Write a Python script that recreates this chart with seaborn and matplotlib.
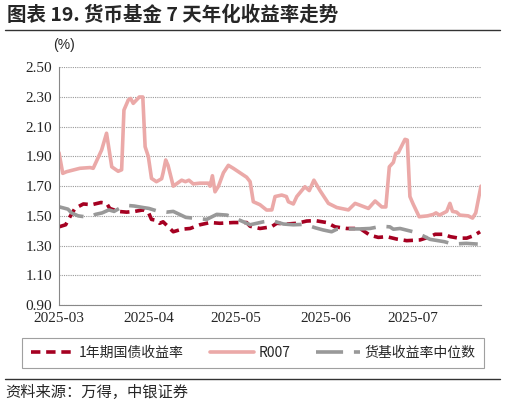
import pandas as pd
import matplotlib
matplotlib.use("Agg")
import matplotlib.pyplot as plt
import matplotlib.dates as mdates
import seaborn as sns

# day offsets counted from 2025-03-01
r007_days = [0, 1.3, 2.6, 7.2, 10.7, 11.8, 14.7, 16.4, 18.2, 20.4, 21.6, 22.4, 23.9, 24.7,
             25.6, 27.7, 28.9, 29.7, 30.8, 31.9, 33.6, 35.4, 35.9, 36.8, 37.6, 39.4, 42.3,
             43.6, 44.8, 46.3, 48.6, 51.5, 52.1, 52.9, 53.8, 55, 56.7, 58.4, 60.1, 64.7,
             65.9, 67, 69.3, 71.6, 73.4, 74.5, 76.8, 78.4, 79.1, 80.8, 82, 84.8, 86.3,
             87.9, 90, 92.9, 95.8, 99.8, 102.1, 106.7, 109, 111.3, 112.7, 113.9, 115.3,
             116.1, 117, 119.3, 120.1, 121, 122.1, 124.2, 127.1, 129.1, 130, 131.2, 133.7,
             134.8, 135.7, 137.1, 138.2, 141.1, 142.6, 143.7, 145.5]
r007_vals = [1.925, 1.786, 1.797, 1.82, 1.825, 1.82, 1.943, 2.056, 1.83, 1.80, 1.81, 2.212,
             2.28, 2.29, 2.257, 2.30, 2.30, 1.965, 1.90, 1.752, 1.73, 1.75, 1.79, 1.876,
             1.84, 1.70, 1.74, 1.73, 1.74, 1.715, 1.72, 1.72, 1.70, 1.77, 1.662, 1.70,
             1.79, 1.84, 1.82, 1.76, 1.73, 1.595, 1.575, 1.539, 1.54, 1.63, 1.64, 1.63,
             1.595, 1.58, 1.63, 1.696, 1.67, 1.74, 1.67, 1.584, 1.556, 1.54, 1.584, 1.55,
             1.60, 1.56, 1.56, 1.83, 1.86, 1.92, 1.925, 2.015, 2.01, 1.63, 1.58, 1.494,
             1.50, 1.51, 1.52, 1.505, 1.53, 1.584, 1.53, 1.525, 1.505, 1.50, 1.485, 1.52,
             1.70]

gov1y_days = [0, 2.3, 3.8, 5.5, 8.4, 11.3, 14.5, 16.4, 17.5, 20.4, 23.3, 26.1, 29, 30.8,
              31.9, 33.6, 34.7, 35.9, 37.7, 39.4, 42.3, 45.2, 48.6, 52.1, 55.5, 60.1, 64.7,
              65.9, 69.3, 73.2, 75.1, 78.6, 82, 85.4, 88.3, 92.3, 95.2, 99.2, 103.8, 107.2,
              110.1, 113, 116.4, 119.9, 124.5, 128, 129.7, 132.6, 134.9, 137.8, 140.6, 143,
              145.2]
gov1y_vals = [1.426, 1.44, 1.494, 1.55, 1.58, 1.575, 1.59, 1.585, 1.55, 1.53, 1.525, 1.53,
              1.54, 1.525, 1.476, 1.47, 1.45, 1.46, 1.426, 1.393, 1.41, 1.415, 1.44, 1.455,
              1.45, 1.455, 1.455, 1.43, 1.415, 1.426, 1.45, 1.445, 1.45, 1.465, 1.468,
              1.455, 1.426, 1.415, 1.415, 1.37, 1.355, 1.36, 1.344, 1.333, 1.338, 1.36,
              1.376, 1.376, 1.36, 1.35, 1.35, 1.367, 1.393]

median_days = [0, 3.1, 4.3, 6.6, 10.3, 12.6, 14.9, 17.2, 19, 21.3, 23.7, 26, 29, 31, 34.3,
               37.1, 39.4, 43.7, 48.6, 50.9, 54.4, 57.9, 60.1, 62.4, 65.9, 68.2, 70.5, 73.4,
               77.4, 80.8, 84.8, 88.3, 91.1, 94, 95.8, 100.3, 103.8, 107.2, 111.2, 114.1,
               115.3, 117.6, 122.1, 125.6, 127.9, 132.9, 135.8, 140.4, 144.4]
median_vals = [1.561, 1.545, 1.52, 1.50, 1.49, 1.51, 1.52, 1.54, 1.53, 1.556, 1.57, 1.566,
               1.556, 1.55, 1.53, 1.525, 1.53, 1.49, 1.48, 1.476, 1.51, 1.505, 1.49, 1.47,
               1.44, 1.45, 1.46, 1.468, 1.445, 1.44, 1.443, 1.42, 1.405, 1.393, 1.41,
               1.412, 1.412, 1.415, 1.43, 1.426, 1.41, 1.415, 1.393, 1.365, 1.342, 1.326,
               1.31, 1.315, 1.31]

y_ticks = [0.90, 1.10, 1.30, 1.50, 1.70, 1.90, 2.10, 2.30, 2.50]
month_ticks = ["2025-03-01", "2025-04-01", "2025-05-01", "2025-06-01", "2025-07-01"]

start = pd.Timestamp("2025-03-01")
cjk = ["Noto Sans CJK SC", "DejaVu Sans"]


def to_frame(days, vals):
    return pd.DataFrame({"date": start + pd.to_timedelta(days, unit="D"), "value": vals})


sns.set_style("white")
# tick labels in a Times-like face, CJK text gets its own family below
plt.rcParams["font.family"] = ["Liberation Serif", "Noto Sans CJK SC"]

fig = plt.figure(figsize=(5.05, 4.05), dpi=100)
ax = fig.add_axes([0.1168, 0.2469, 0.8356, 0.587])

sns.lineplot(data=to_frame(gov1y_days, gov1y_vals), x="date", y="value", ax=ax,
             color="#A50021", lw=2.6, label="1年期国债收益率")
ax.lines[-1].set_dashes([2.6, 1.6])
sns.lineplot(data=to_frame(r007_days, r007_vals), x="date", y="value", ax=ax,
             color="#EBA9A8", lw=2.6, label="R007")
sns.lineplot(data=to_frame(median_days, median_vals), x="date", y="value", ax=ax,
             color="#999999", lw=2.6, label="货基收益率中位数")
ax.lines[-1].set_dashes([7.5, 3])

ax.set_ylim(0.90, 2.50)
ax.set_yticks(y_ticks)
ax.yaxis.set_major_formatter(matplotlib.ticker.FormatStrFormatter("%.2f"))
ax.set_xlim(start, start + pd.Timedelta(days=145.5))
ax.set_xticks(pd.to_datetime(month_ticks))
ax.xaxis.set_major_formatter(mdates.DateFormatter("%Y-%m"))
ax.set_xlabel("")
ax.set_ylabel("")
ax.grid(axis="y", color="#999999", linestyle=(0, (1, 1)), lw=0.8)
ax.set_axisbelow(True)
for s in ["top", "right"]:
    ax.spines[s].set_visible(False)
for s in ["left", "bottom"]:
    ax.spines[s].set_color("#888888")
    ax.spines[s].set_linewidth(0.8)
ax.tick_params(axis="y", length=3, color="#888888", pad=2, labelsize=11)
ax.tick_params(axis="x", length=3, direction="in", color="#888888", pad=5, labelsize=11)

# "(%)" unit label, placed in figure pixels
fig.text(64 / 505, 1 - 45 / 405, "(%)", fontsize=10, family="Liberation Sans",
         ha="center", va="center")

leg = ax.legend(loc="center", bbox_to_anchor=(0.044, 0.087, 0.914, 0.083),
                bbox_transform=fig.transFigure, mode="expand", ncol=3, frameon=True,
                prop={"family": cjk, "size": 10}, fancybox=False, edgecolor="#888888",
                handlelength=3.2, borderpad=0.6, handletextpad=0.3, borderaxespad=0)
leg.get_frame().set_linewidth(0.8)

fig.text(0.014, 0.963, "图表 19. 货币基金 7 天年化收益率走势", fontsize=14, weight="bold",
         family=cjk, va="center")
fig.add_artist(plt.Line2D([0.01, 0.99], [0.925, 0.925], color="#333333", lw=1))
fig.add_artist(plt.Line2D([0.01, 0.99], [0.064, 0.064], color="#333333", lw=1))
fig.text(0.01, 0.032, "资料来源：万得，中银证券", fontsize=11, style="italic",
         family=cjk, va="center")

fig.savefig("out.png", dpi=100)
